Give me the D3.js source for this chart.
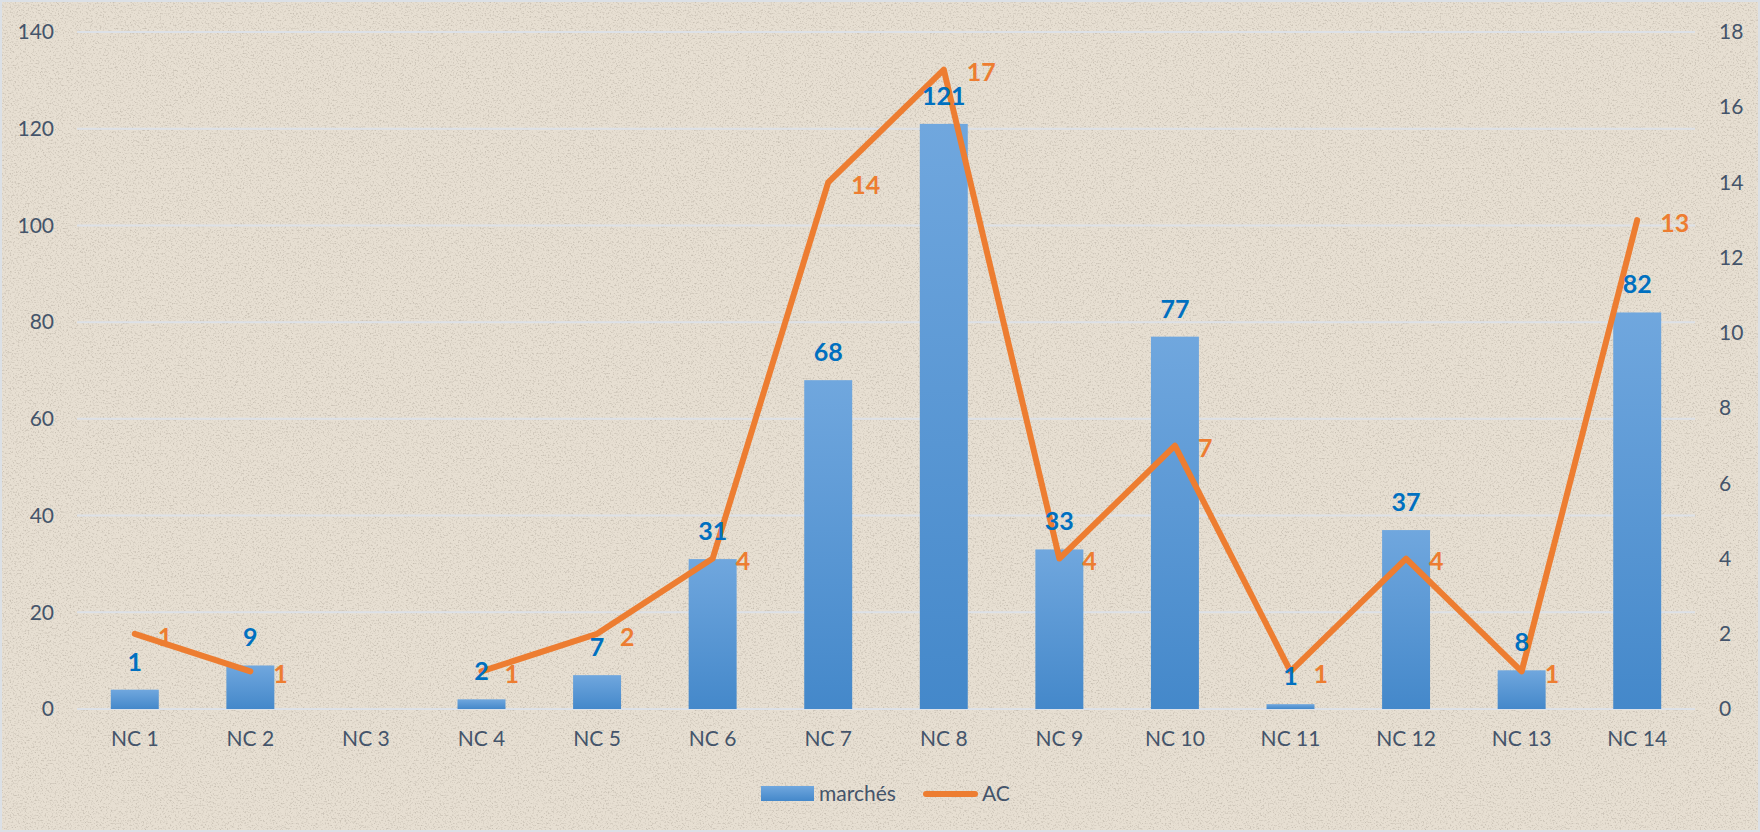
<!DOCTYPE html>
<html lang="fr">
<head>
<meta charset="UTF-8">
<title>marchés / AC</title>
<script src="https://d3js.org/d3.v7.min.js"></script>
<style>
  html, body { margin: 0; padding: 0; background: #e7dfd2; }
  svg { display: block; font-family: Lato, "Noto Sans", sans-serif; }
</style>
</head>
<body>
<svg width="1760" height="832"></svg>
<script>
const categories = ["NC 1", "NC 2", "NC 3", "NC 4", "NC 5", "NC 6", "NC 7",
                    "NC 8", "NC 9", "NC 10", "NC 11", "NC 12", "NC 13", "NC 14"];
// hauteurs des barres telles que dessinées
const marches = [4, 9, null, 2, 7, 31, 68, 121, 33, 77, 1, 37, 8, 82];
const marchesLabels = ["1", "9", "", "2", "7", "31", "68", "121", "33", "77", "1", "37", "8", "82"];
const ac = [2, 1, null, 1, 2, 4, 14, 17, 4, 7, 1, 4, 1, 13];
const acLabels = ["1", "1", "", "1", "2", "4", "14", "17", "4", "7", "1", "4", "1", "13"];
const leftTicks = [0, 20, 40, 60, 80, 100, 120, 140];
const rightTicks = [0, 2, 4, 6, 8, 10, 12, 14, 16, 18];

const svg = d3.select("svg");
const W = 1760, H = 832;
const margin = { top: 32, right: 65, bottom: 123, left: 77 };
const font = "Lato, 'Noto Sans', sans-serif";
const axisColor = "#44546a";
const blue = "#0070c0";
const orange = "#ed7d31";

const defs = svg.append("defs");
const grad = defs.append("linearGradient")
    .attr("id", "barGrad")
    .attr("x1", "0%").attr("x2", "0%").attr("y1", "0%").attr("y2", "100%");
grad.append("stop").attr("offset", "0%").attr("stop-color", "#70a7de");
grad.append("stop").attr("offset", "100%").attr("stop-color", "#4488ca");

const noise = defs.append("filter").attr("id", "paper")
    .attr("x", 0).attr("y", 0).attr("width", "100%").attr("height", "100%");
noise.append("feTurbulence")
    .attr("type", "fractalNoise").attr("baseFrequency", 0.6)
    .attr("numOctaves", 3).attr("seed", 7).attr("result", "t");
noise.append("feColorMatrix").attr("in", "t").attr("type", "matrix")
    .attr("values", "0 0 0 0 0.33  0 0 0 0 0.29  0 0 0 0 0.24  -3 0 0 0 1.5");

// fond papier
svg.append("rect").attr("width", W).attr("height", H).attr("fill", "#e7dfd2");
svg.append("rect").attr("width", W).attr("height", H)
    .attr("filter", "url(#paper)").attr("opacity", 0.4);
svg.append("rect").attr("x", 1).attr("y", 1).attr("width", W - 2).attr("height", H - 2)
    .attr("fill", "none").attr("stroke", "#dbe0e6").attr("stroke-width", 2);

const x = d3.scaleBand()
    .domain(categories)
    .range([margin.left, W - margin.right])
    .padding(0);

const y = d3.scaleLinear()
    .domain([0, 140])
    .range([H - margin.bottom, margin.top]);

const y2 = d3.scaleLinear()
    .domain([0, 18])
    .range([H - margin.bottom, margin.top]);

// grille
svg.append("g")
    .selectAll("line")
    .data(leftTicks)
    .join("line")
    .attr("x1", margin.left).attr("x2", W - margin.right)
    .attr("y1", d => y(d)).attr("y2", d => y(d))
    .attr("stroke", "#dde1e7").attr("stroke-width", 2);

function styleAxis(g) {
    g.attr("font-family", font);
    g.select(".domain").remove();
    g.selectAll("text").attr("fill", axisColor).style("font-size", "21px");
}

// axe gauche
svg.append("g")
    .attr("transform", `translate(${margin.left - 23},0)`)
    .call(d3.axisLeft(y).tickValues(leftTicks).tickSize(0).tickPadding(0))
    .call(styleAxis);

// axe droit
svg.append("g")
    .attr("transform", `translate(${W - margin.right + 24},0)`)
    .call(d3.axisRight(y2).tickValues(rightTicks).tickSize(0).tickPadding(0))
    .call(styleAxis);

// axe des catégories
svg.append("g")
    .attr("transform", `translate(0,${H - margin.bottom + 22})`)
    .call(d3.axisBottom(x).tickSize(0).tickPadding(0))
    .call(styleAxis)
    .selectAll("text").attr("dy", "0.7em");

// barres
const barW = x.bandwidth() * 0.415;
const barData = categories.map((c, i) => ({ c, v: marches[i], label: marchesLabels[i] }))
    .filter(d => d.v !== null);

svg.append("g")
    .selectAll("rect")
    .data(barData)
    .join("rect")
    .attr("x", d => x(d.c) + (x.bandwidth() - barW) / 2)
    .attr("y", d => y(d.v))
    .attr("width", barW)
    .attr("height", d => y(0) - y(d.v))
    .attr("fill", "url(#barGrad)");

// ligne AC
const acData = categories.map((c, i) => ({ c, v: ac[i], label: acLabels[i] }));
const line = d3.line()
    .defined(d => d.v !== null)
    .x(d => x(d.c) + x.bandwidth() / 2)
    .y(d => y2(d.v));

svg.append("path")
    .datum(acData)
    .attr("d", line)
    .attr("fill", "none")
    .attr("stroke", orange)
    .attr("stroke-width", 6)
    .attr("stroke-linecap", "round")
    .attr("stroke-linejoin", "round");

// étiquettes
svg.append("g")
    .selectAll("text")
    .data(barData)
    .join("text")
    .attr("x", d => x(d.c) + x.bandwidth() / 2)
    .attr("y", d => y(d.v) - 19)
    .attr("text-anchor", "middle")
    .attr("fill", blue)
    .style("font-size", "25px")
    .style("font-weight", "bold")
    .text(d => d.label);

svg.append("g")
    .selectAll("text")
    .data(acData.filter(d => d.v !== null))
    .join("text")
    .attr("x", d => x(d.c) + x.bandwidth() / 2 + 23)
    .attr("y", d => y2(d.v) + 3)
    .attr("dy", "0.35em")
    .attr("fill", orange)
    .style("font-size", "25px")
    .style("font-weight", "bold")
    .text(d => d.label);

// légende
const leg = svg.append("g").attr("transform", "translate(761,794)");
leg.append("rect").attr("x", 0).attr("y", -8).attr("width", 53).attr("height", 15)
    .attr("fill", "url(#barGrad)");
leg.append("text").attr("x", 58).attr("y", 0).attr("dy", "0.35em")
    .attr("fill", axisColor).style("font-size", "21px").text("marchés");
leg.append("line").attr("x1", 165).attr("x2", 214).attr("y1", 0).attr("y2", 0)
    .attr("stroke", orange).attr("stroke-width", 6).attr("stroke-linecap", "round");
leg.append("text").attr("x", 221).attr("y", 0).attr("dy", "0.35em")
    .attr("fill", axisColor).style("font-size", "21px").text("AC");
</script>
</body>
</html>
